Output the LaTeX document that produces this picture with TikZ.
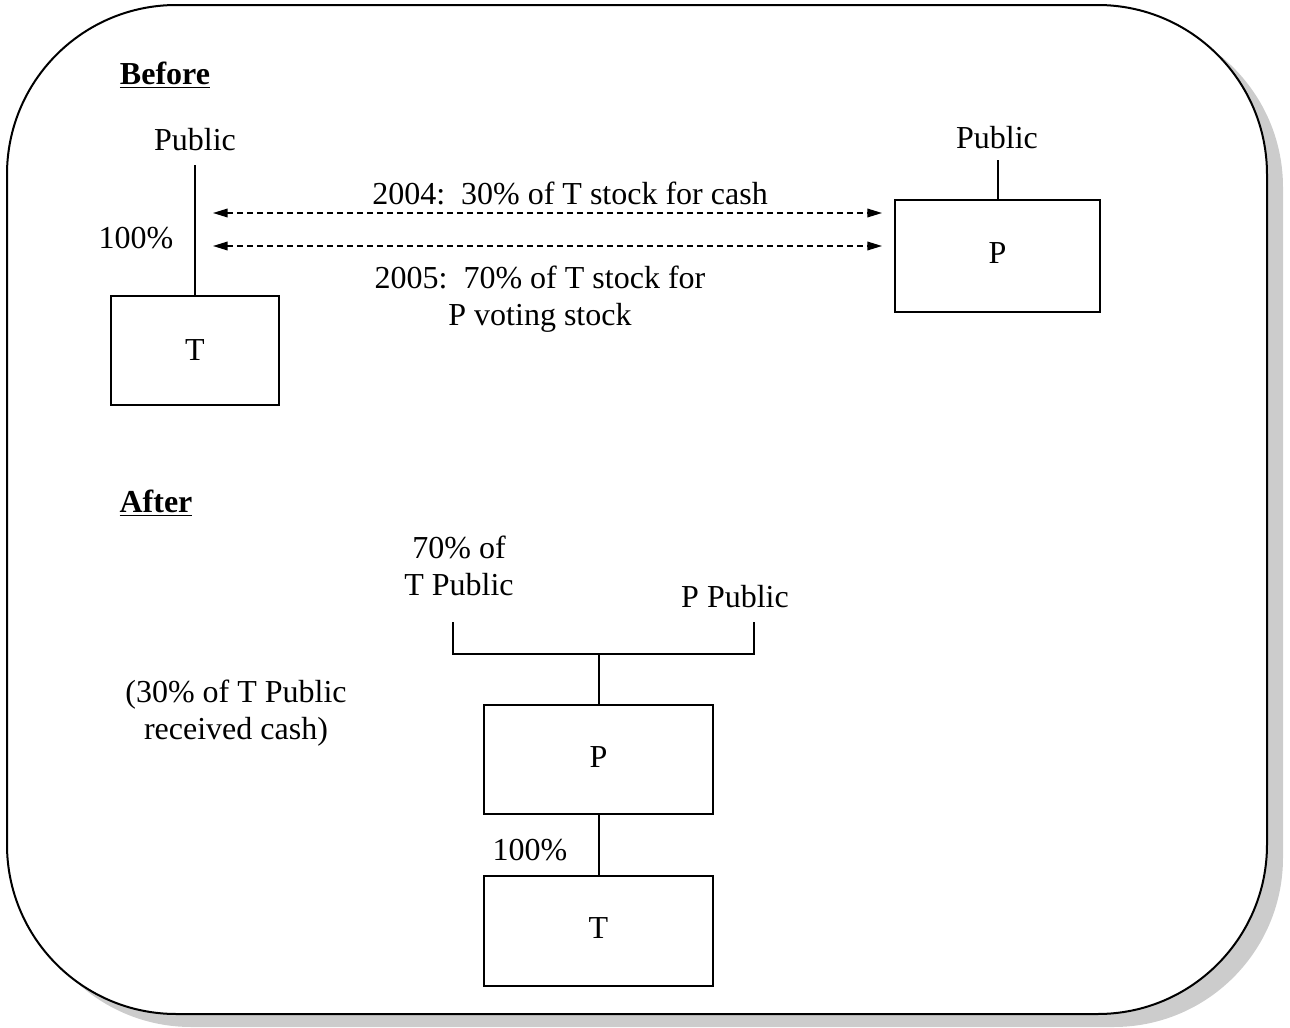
\documentclass[tikz,border=0pt]{standalone}
\usepackage{fontspec}
\setmainfont{Liberation Serif}
\usetikzlibrary{arrows.meta}
\begin{document}
\begin{tikzpicture}[x=0.75pt,y=-0.75pt,
  every node/.style={font=\fontsize{24}{27.75}\selectfont, inner sep=0pt},
  entbox/.style={draw, line width=1.5pt, inner sep=0pt},
  conn/.style={line width=1.5pt},
  xfer/.style={line width=1.1pt, dash pattern=on 4.5pt off 3pt, {Triangle[length=11pt,width=6.5pt]}-{Triangle[length=11pt,width=6.5pt]}},
  frame/.style={line width=1.5pt, rounded corners=127pt}]
\useasboundingbox (0,0) rectangle (1290,1028);
% frame with shadow
\fill[gray!40, frame] (22,18) rectangle (1283,1027);
\filldraw[fill=white, frame] (7,5) rectangle (1267,1014);

% Before
\node (before) at (165,75) {\textbf{\underline{Before}}};
\node (pubT) at (195,140) {Public};
\node[entbox, minimum width=126pt, minimum height=81.75pt] (Tb) at (195,350.5) {T};
\coordinate (pubTbot) at (195,165);
\draw[conn] (pubTbot) -- (Tb.north);
\node (pctB) at (136,238) {100\%};

\node (pubP) at (997,138) {Public};
\node[entbox, minimum width=153.75pt, minimum height=84pt] (Pb) at (997.5,256) {\raisebox{4pt}{P}};
\coordinate (pubPbot) at (997.5,160);
\draw[conn] (pubPbot) -- (Pb.north);

\coordinate (a1l) at (213,213);
\coordinate (a1r) at (882,213);
\coordinate (a2l) at (213,246);
\coordinate (a2r) at (882,246);
\draw[xfer] (a1l) -- (a1r);
\draw[xfer] (a2l) -- (a2r);
\node (t2004) at (570,193) {2004:\ \ 30\% of T stock for cash};
\node[align=center] (t2005) at (540,299.5) {2005:\ \ 70\% of T stock for\\P voting stock};

% After
\node (after) at (156,503) {\textbf{\underline{After}}};
\node[align=center] (tpub) at (459,565.5) {70\% of\\T Public};
\node (ppub) at (735,597) {P Public};
\node[align=center] (cashnote) at (236,713.5) {(30\% of T Public\\received cash)};

\node[entbox, minimum width=171.75pt, minimum height=81.75pt] (Pa) at (598.5,759.5) {\raisebox{4pt}{P}};
\node[entbox, minimum width=171.75pt, minimum height=82.5pt] (Ta) at (598.5,931) {\raisebox{4pt}{T}};
\node (pctA) at (530,850) {100\%};

\coordinate (brL) at (453,622);
\coordinate (brR) at (754,622);
\coordinate (brM) at (598.5,654);
\draw[conn] (brL) |- (brM) -| (brR);
\draw[conn] (brM) -- (Pa.north);
\draw[conn] (Pa.south) -- (Ta.north);
\end{tikzpicture}
\end{document}
